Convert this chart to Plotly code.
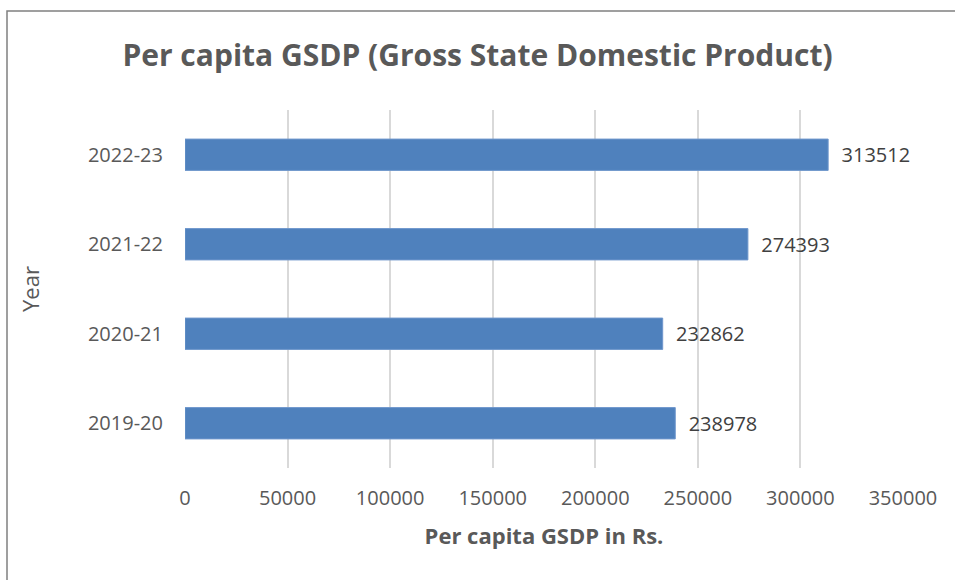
import plotly.graph_objects as go

years = ["2019-20", "2020-21", "2021-22", "2022-23"]
gsdp = [238978, 232862, 274393, 313512]
x_ticks = [0, 50000, 100000, 150000, 200000, 250000, 300000, 350000]

FONT = "Open Sans"

fig = go.Figure()
fig.add_trace(go.Bar(
    y=years, x=gsdp, orientation="h",
    marker=dict(color="#4f81bd", line=dict(color="#6f97cc", width=1)),
    text=[str(v) for v in gsdp],
    texttemplate="  %{text}",
    textposition="outside",
    textfont=dict(family=FONT, size=20, color="#404040"),
    cliponaxis=False,
    width=0.35,
))

fig.update_layout(
    width=955, height=580,
    margin=dict(l=185, r=52, t=110, b=112),
    paper_bgcolor="white", plot_bgcolor="white",
    showlegend=False,
    title=dict(text="<b>Per capita GSDP (Gross State Domestic Product)</b>",
               x=0.5, xanchor="center", y=0.905, yanchor="middle",
               font=dict(family=FONT, size=30, color="#595959")),
    font=dict(family=FONT, color="#595959"),
    xaxis=dict(range=[0, 350000], tickvals=x_ticks,
               ticktext=[str(v) for v in x_ticks],
               showgrid=True, gridcolor="#d9d9d9", gridwidth=1.5,
               zeroline=False, showline=False,
               tickfont=dict(family=FONT, size=20, color="#595959"),
               ticklabelstandoff=16,
               title=dict(text="<b>Per capita GSDP in Rs.</b>",
                          font=dict(family=FONT, size=22, color="#595959"),
                          standoff=18)),
    yaxis=dict(categoryorder="array", categoryarray=years,
               showgrid=False, zeroline=False, showline=False,
               tickfont=dict(family=FONT, size=20, color="#595959"),
               ticklabelstandoff=21,
               title=dict(text="Year",
                          font=dict(family=FONT, size=22, color="#595959"),
                          standoff=42)),
    shapes=[dict(type="rect", xref="paper", yref="paper",
                 x0=(7 - 185) / 718, x1=1.3, y0=-0.6, y1=(468 - 11) / 358,
                 line=dict(color="#808080", width=1.5), fillcolor="rgba(0,0,0,0)",
                 layer="below")],
)

fig.write_html("out.html", config={"displayModeBar": False},
               post_script="document.body.style.margin='0';")
